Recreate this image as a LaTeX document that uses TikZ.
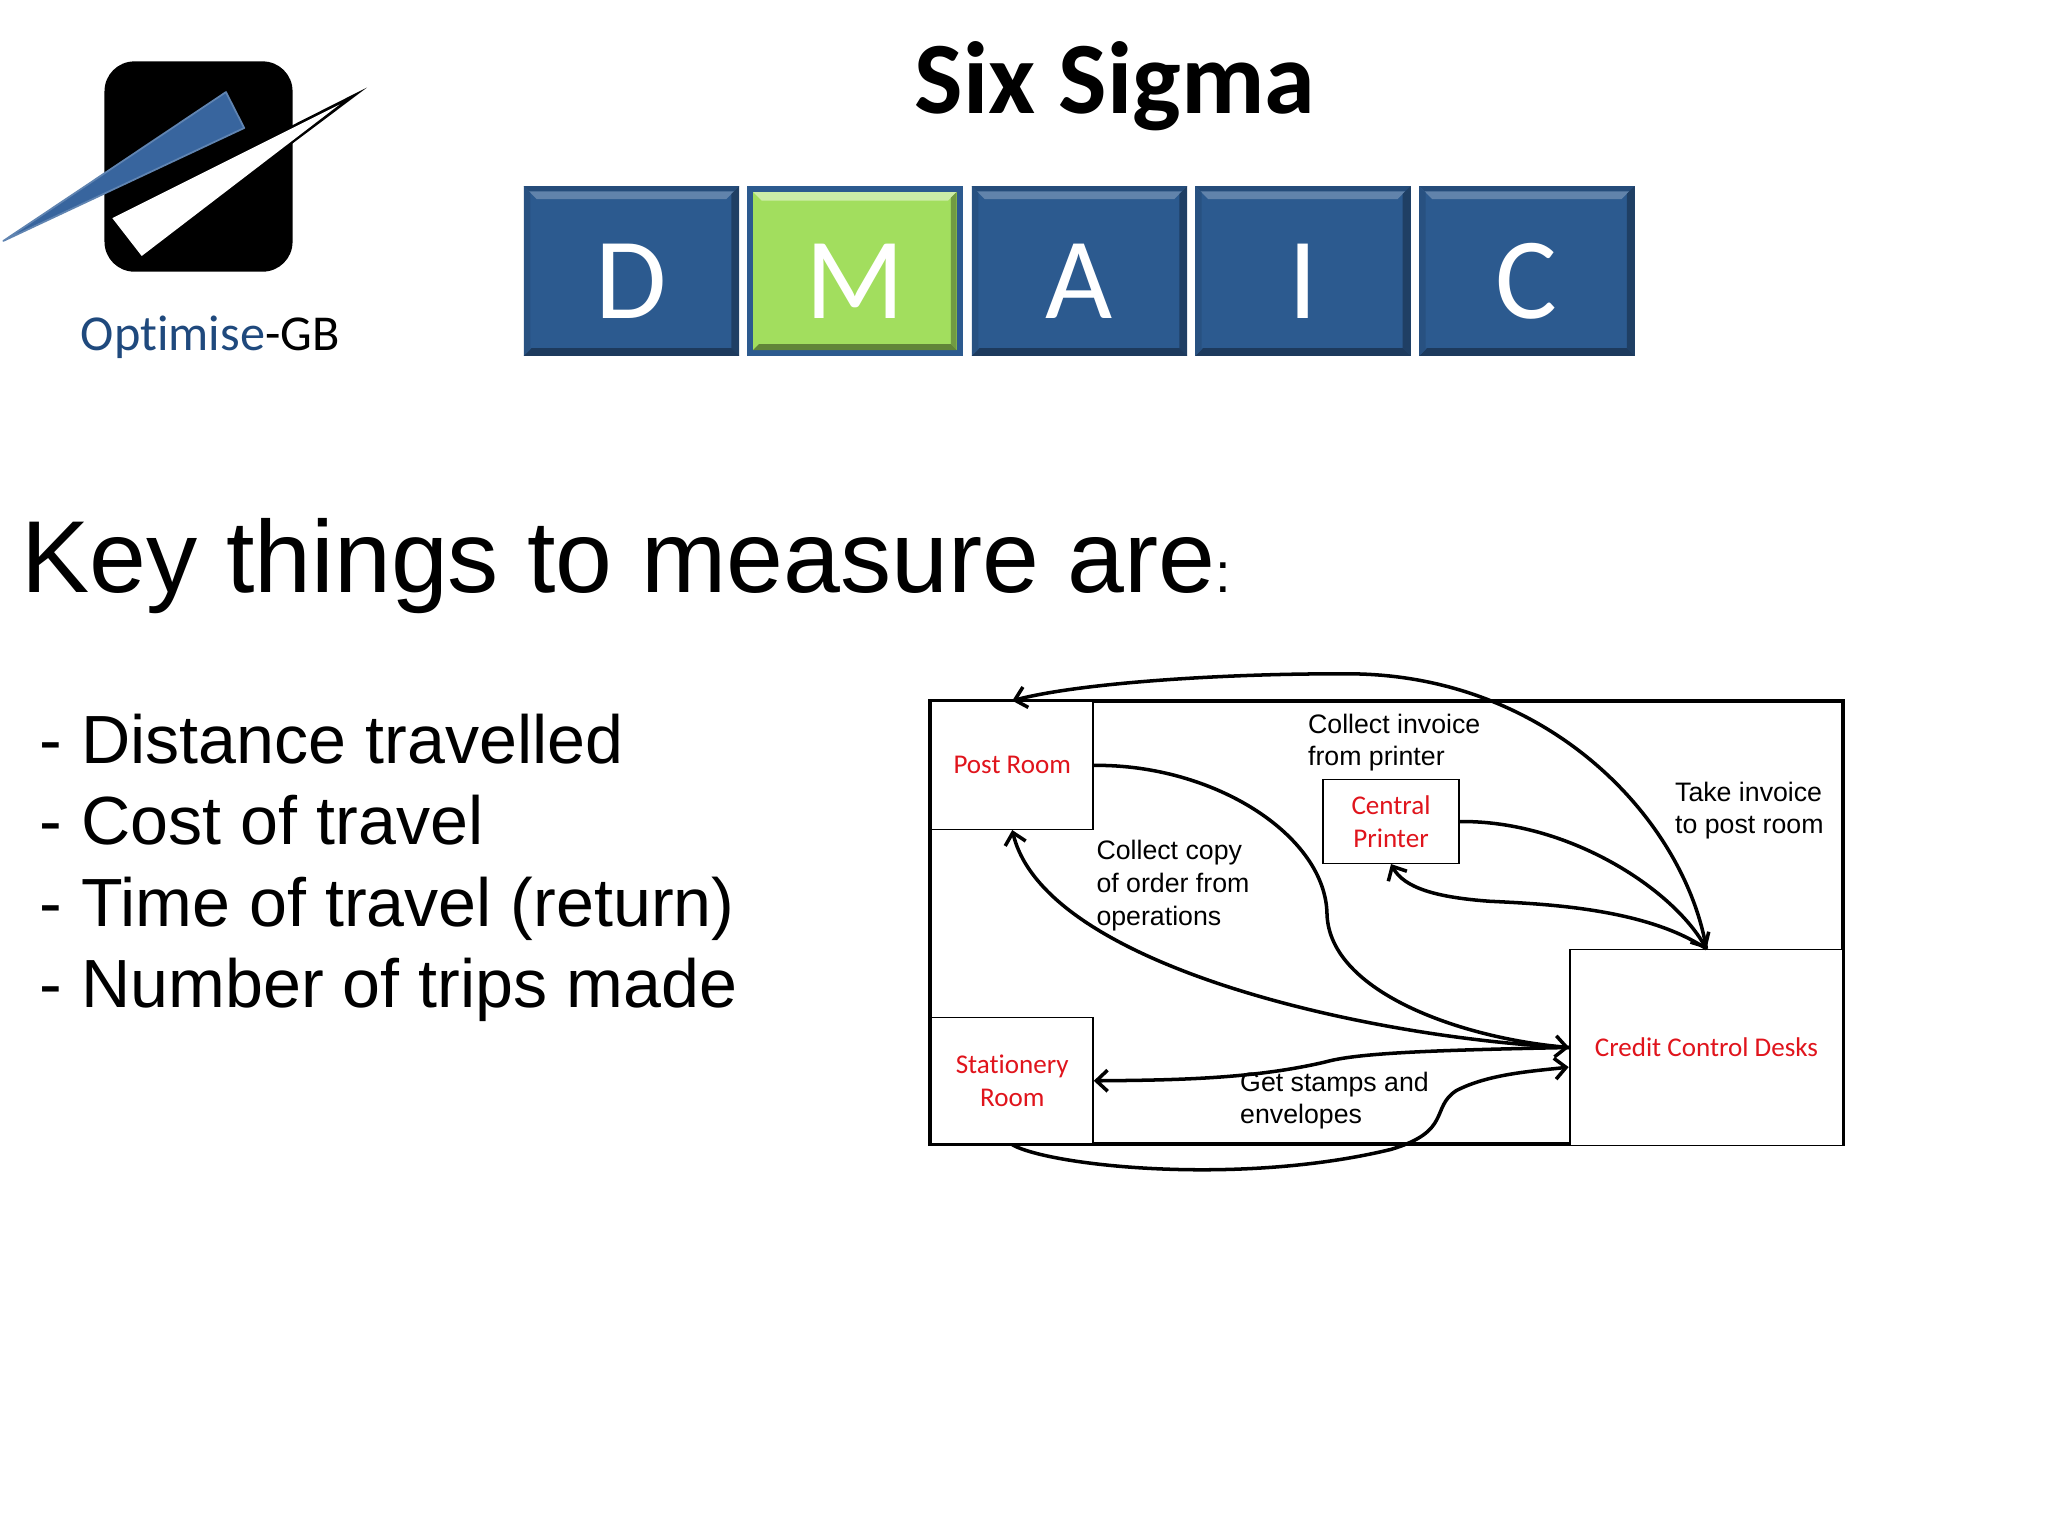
\documentclass[tikz,border=0pt]{standalone}
\usepackage{fontspec}
\setmainfont{Liberation Sans}
\newfontfamily\carlito[Ligatures=NoCommon]{Carlito}
\usepackage{xcolor}
\usetikzlibrary{calc, arrows.meta}

\definecolor{dmaicblue}{HTML}{2C5A8F}
\definecolor{dmaicgreen}{HTML}{A2DE5E}
\definecolor{logoblue}{HTML}{38659E}
\definecolor{logotext}{HTML}{1F497D}
\definecolor{roomred}{HTML}{E0141C}

\tikzset{
    room/.style={draw, fill=white, line width=0.4pt, inner sep=0pt, align=center, text=roomred,
        font=\carlito\fontsize{7.7}{9.3}\selectfont},
    dmaic/.style={fill=dmaicblue, draw=dmaicblue!75!black, line width=0.4pt, inner sep=0pt,
        minimum width=60.9pt, minimum height=47.9pt, text height=27.2pt, text=white,
        font=\carlito\fontsize{33}{33}\selectfont},
    note/.style={inner sep=0pt, anchor=north west, align=left, font=\fontsize{7.6}{9.3}\selectfont},
    route/.style={line width=1pt, -{Straight Barb[length=3.2pt, width=6pt]}},
}

\begin{document}
\begin{tikzpicture}[x=0.013061cm, y=-0.013061cm]
    \useasboundingbox (0, 0) rectangle (1568, 1176);

    % logo
    \fill[black, rounded corners=8.5pt] (80, 47) rectangle (224, 208);
    \fill[black] (85, 166) -- (281, 67) -- (108, 197) -- cycle;
    \fill[white] (86, 167) -- (260, 80) -- (108.5, 196) -- cycle;
    \fill[logoblue, draw=logoblue!80!white, line width=0.5pt, line join=round] (2.5, 184.5) -- (173, 70.5) -- (187, 98) -- cycle;
    \node[inner sep=0pt, font=\carlito\fontsize{14.3}{14.3}\selectfont] (brand) at (161, 258) {\textcolor{logotext}{Optimise}-GB};

    \node[inner sep=0pt, font=\carlito\bfseries\fontsize{29.2}{29.2}\selectfont] (title) at (853.5, 66) {Six Sigma};

    \node[dmaic] (d) at (483.5, 207.5) {D};
    \node[dmaic, fill=dmaicgreen] (m) at (654.5, 207.5) {M};
    \node[dmaic] (a) at (826.5, 207.5) {A};
    \node[dmaic] (i) at (997.5, 207.5) {I};
    \node[dmaic] (c) at (1169, 207.5) {C};

    % bevels of the blue boxes
    \foreach \n in {d, a, i, c} {
        \fill[dmaicblue!75!white] (\n.north west) -- (\n.north east) -- ($(\n.north east)+(-10, 10)$) -- ($(\n.north west)+(10, 10)$) -- cycle;
        \fill[dmaicblue!85!black] (\n.north west) -- (\n.north east) -- ($(\n.north east)+(-4, 4)$) -- ($(\n.north west)+(4, 4)$) -- cycle;
        \fill[dmaicblue!70!black] (\n.north east) -- (\n.south east) -- ($(\n.south east)+(-6, -6)$) -- ($(\n.north east)+(-6, 6)$) -- cycle;
        \fill[dmaicblue!65!black] (\n.south west) -- (\n.south east) -- ($(\n.south east)+(-6, -6)$) -- ($(\n.south west)+(6, -6)$) -- cycle;
        \fill[dmaicblue!90!black] (\n.north west) -- (\n.south west) -- ($(\n.south west)+(5, -5)$) -- ($(\n.north west)+(5, 5)$) -- cycle;
    }
    % the green box keeps a blue rim
    \draw[dmaicblue, line width=1.6pt] ($(m.north west)+(2.2, 2.2)$) rectangle ($(m.south east)+(-2.2, -2.2)$);
    \fill[dmaicgreen!55!white] ($(m.north west)+(4.5, 4.5)$) -- ($(m.north east)+(-4.5, 4.5)$) -- ($(m.north east)+(-11, 11)$) -- ($(m.north west)+(11, 11)$) -- cycle;
    \fill[dmaicgreen!70!black] ($(m.north east)+(-4.5, 4.5)$) -- ($(m.south east)+(-4.5, -4.5)$) -- ($(m.south east)+(-9, -9)$) -- ($(m.north east)+(-9, 9)$) -- cycle;
    \fill[dmaicgreen!60!black] ($(m.south west)+(4.5, -4.5)$) -- ($(m.south east)+(-4.5, -4.5)$) -- ($(m.south east)+(-9, -9)$) -- ($(m.south west)+(9, -9)$) -- cycle;

    \node[inner sep=0pt, anchor=base west, font=\fontsize{29.1}{29.1}\selectfont] (key) at (16, 454) {Key things to measure are{\fontsize{16}{16}\selectfont:}};
    \node[inner sep=0pt, anchor=north west, align=left, font=\fontsize{19.4}{23.2}\selectfont] (list) at (30, 546) {- Distance travelled\\- Cost of travel\\- Time of travel (return)\\- Number of trips made};

    % floor plan
    \draw[line width=1.1pt] (712, 537) rectangle (1411, 876);
    \node[room, minimum width=46pt, minimum height=36.4pt] (post) at (775, 586) {Post Room};
    \node[room, minimum width=46pt, minimum height=36pt] (stationery) at (775, 827.5) {Stationery\\Room};
    \node[room, minimum width=38.6pt, minimum height=23.8pt] (printer) at (1065, 629) {Central\\Printer};
    \node[room, minimum width=77.7pt, minimum height=55.7pt] (credit) at (1306.5, 802) {Credit Control Desks};
    \coordinate (creditlow) at (1201, 817);

    \draw[route] (post.east) .. controls (930, 585) and (1015, 640) .. (1016, 700) .. controls (1018, 760) and (1120, 795) .. (credit.west);
    \draw[route] (credit.west) .. controls (1050, 795) and (800, 740) .. (post.south);
    \draw[route] (credit.west) .. controls (1100, 804) and (1040, 806) .. (1015, 813) .. controls (960, 826) and (900, 827) .. (stationery.east);
    \draw[route] (stationery.south) .. controls (805, 893) and (950, 908) .. (1065, 880) .. controls (1112, 866) and (1095, 848) .. (1115, 835) .. controls (1140, 822) and (1175, 820) .. (creditlow);
    \draw[route] (credit.north) .. controls (1290, 630) and (1190, 520) .. (1040, 516) .. controls (950, 515) and (830, 522) .. (post.north);
    \draw[route] (printer.east) .. controls (1200, 628) and (1280, 680) .. (credit.north);
    \draw[route] (credit.north) .. controls (1260, 695) and (1180, 692) .. (1140, 690) .. controls (1100, 687) and (1075, 680) .. (printer.south);

    \node[note] (invoicelabel) at (1001, 546) {Collect invoice\\from printer};
    \node[note] (takelabel) at (1282, 598) {Take invoice\\to post room};
    \node[note] (copylabel) at (839, 643) {Collect copy\\of order from\\operations};
    \node[note] (stampslabel) at (949, 820) {Get stamps and\\envelopes};
\end{tikzpicture}
\end{document}
